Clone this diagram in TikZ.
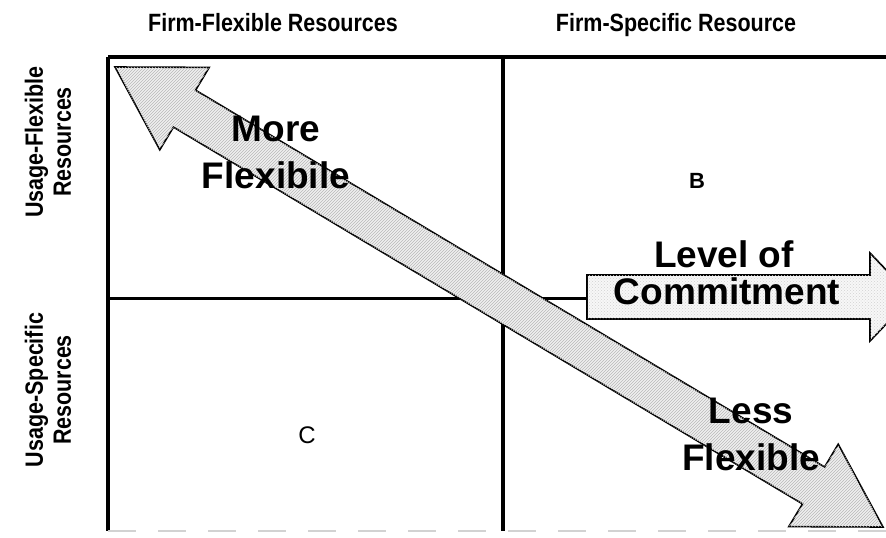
\documentclass[tikz,border=0pt]{standalone}
\usepackage{fontspec}
\setmainfont{Liberation Sans}
\newfontfamily\narrowsans[FakeStretch=0.86]{Liberation Sans}
\usetikzlibrary{patterns}

\begin{document}
\begin{tikzpicture}[x=1pt,y=-1pt,
  gridline/.style={line width=3.5pt, black},
  header/.style={font=\narrowsans\bfseries\fontsize{25}{28}\selectfont, align=center, inner sep=0pt},
  bigword/.style={font=\bfseries\fontsize{37}{47}\selectfont, align=center, inner sep=0pt},
  cellmark/.style={font=\fontsize{24}{28}\selectfont, inner sep=0pt},
  hatched/.style={draw=black, line width=1.6pt, line join=miter, fill=gray!12,
    postaction={pattern=north east lines, pattern color=gray!55}},
  dotted fill/.style={draw=black, line width=1.6pt, line join=miter, fill=gray!6,
    postaction={pattern=crosshatch dots, pattern color=gray!35}}
]
\useasboundingbox (0,0) rectangle (886,538);
\clip (0,0) rectangle (886,538);

% column and row headings
\node[header, anchor=base] (colA) at (273,31) {Firm-Flexible Resources};
\node[header, anchor=base] (colB) at (676,31) {Firm-Specific Resource};
\node[header, rotate=90] (rowA) at (48,142) {Usage-Flexible\\Resources};
\node[header, rotate=90] (rowB) at (48,390) {Usage-Specific\\Resources};

% frame of the 2x2 grid
\coordinate (tl) at (108,57);
\coordinate (tr) at (886,57);
\coordinate (tm) at (503,57);
\coordinate (bl) at (108,531);
\coordinate (bm) at (503,531);
\coordinate (br) at (886,531);
\coordinate (ml) at (108,298);
\coordinate (cstart) at (587,298);
\draw[gridline] (tl) -- (tr);
\draw[gridline] (tl) -- (bl);
\draw[gridline] (tm) -- (bm);
\draw[line width=3pt] (ml) -- (cstart);
\draw[gray!35, line width=2.5pt, dash pattern=on 28pt off 22pt] (bl) -- (br);

% cell letters
\node[cellmark, font=\bfseries\fontsize{22}{26}\selectfont] (cellB) at (697,181) {B};
\node[cellmark] (cellC) at (307,435) {C};

% level of commitment arrow
\coordinate (ctip) at (912,297);
\draw[dotted fill] (587,275) -- (870,275) -- (870,253) -- (ctip)
  -- (870,341) -- (870,319) -- (587,319) -- cycle;
\node[bigword] (level) at (724,254) {Level of};
\node[bigword] (commit) at (727,291) {Commitment};

% double-headed diagonal arrow
\coordinate (tipA) at (115,67);
\coordinate (tipB) at (883,527);
\draw[hatched] (tipA) -- (209.2,67.4) -- (195.6,90.2) -- (824.6,467.0)
  -- (838.2,444.2) -- (tipB) -- (788.8,526.6) -- (802.5,503.9)
  -- (173.5,127.1) -- (159.8,149.8) -- cycle;

\node[bigword] (more) at (276,152) {More\\Flexibile};
\node[bigword] (less) at (751,434) {Less\\Flexible};
\end{tikzpicture}
\end{document}
